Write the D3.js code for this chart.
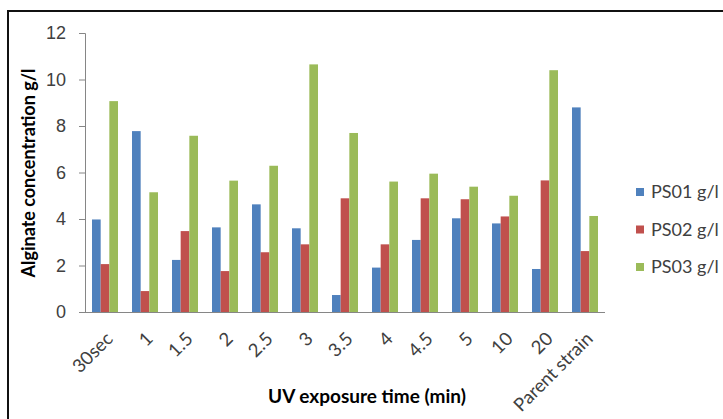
<!DOCTYPE html>
<html>
<head>
<meta charset="utf-8">
<script src="https://cdn.jsdelivr.net/npm/d3@7"></script>
<style>
  html, body { margin: 0; padding: 0; background: #fff; }
  svg { display: block; font-family: Lato, "Open Sans", sans-serif; }
</style>
</head>
<body>
<div id="chart"></div>
<script>
const categories = ['30sec', '1', '1.5', '2', '2.5', '3', '3.5', '4', '4.5', '5', '10', '20', 'Parent strain'];
const seriesNames = ['PS01 g/l', 'PS02 g/l', 'PS03 g/l'];
const ps01 = [3.98, 7.78, 2.24, 3.64, 4.63, 3.60, 0.73, 1.91, 3.10, 4.03, 3.81, 1.85, 8.80];
const ps02 = [2.06, 0.90, 3.48, 1.76, 2.57, 2.91, 4.89, 2.91, 4.89, 4.85, 4.11, 5.66, 2.62];
const ps03 = [9.07, 5.15, 7.58, 5.65, 6.29, 10.65, 7.70, 5.61, 5.95, 5.39, 5.00, 10.40, 4.13];
const yTicks = [0, 2, 4, 6, 8, 10, 12];
const colors = ['#4F81BD', '#C0504D', '#9BBB59'];

const width = 723;
const height = 419;
const plot = { left: 85, right: 605, top: 33, bottom: 312 };

const svg = d3.select('#chart')
  .append('svg')
  .attr('width', width)
  .attr('height', height);

// outer frame (right and bottom edges fall outside the picture)
svg.append('rect')
  .attr('x', 8)
  .attr('y', 11)
  .attr('width', 740)
  .attr('height', 440)
  .attr('fill', 'none')
  .attr('stroke', '#111')
  .attr('stroke-width', 2);

const x = d3.scaleBand()
  .domain(categories)
  .range([plot.left, plot.right])
  .paddingInner(0.35)
  .paddingOuter(0.175);

const xs = d3.scaleBand()
  .domain(seriesNames)
  .range([0, x.bandwidth()]);

const y = d3.scaleLinear()
  .domain([0, 12])
  .range([plot.bottom, plot.top]);

const series = [ps01, ps02, ps03].map((vals, i) => ({
  name: seriesNames[i],
  color: colors[i],
  values: vals.map((v, j) => ({ cat: categories[j], v })),
}));

svg.append('g')
  .selectAll('g')
  .data(series)
  .join('g')
  .attr('fill', (d) => d.color)
  .selectAll('rect')
  .data((d) => d.values.map((p) => ({ ...p, name: d.name })))
  .join('rect')
  .attr('x', (d) => x(d.cat) + xs(d.name))
  .attr('y', (d) => y(d.v))
  .attr('width', xs.bandwidth())
  .attr('height', (d) => y(0) - y(d.v));

// y axis
const yAxis = svg.append('g')
  .attr('transform', `translate(${plot.left},0)`)
  .call(d3.axisLeft(y).tickValues(yTicks).tickSize(6).tickPadding(13));
yAxis.select('.domain').attr('stroke', '#868686');
yAxis.selectAll('.tick line').attr('stroke', '#868686');
yAxis.selectAll('.tick text')
  .attr('fill', '#404040')
  .style('font-size', '18px');

// x axis line
svg.append('line')
  .attr('x1', plot.left)
  .attr('x2', plot.right)
  .attr('y1', y(0) + 0.5)
  .attr('y2', y(0) + 0.5)
  .attr('stroke', '#868686');

// x labels, rotated
svg.append('g')
  .selectAll('text')
  .data(categories)
  .join('text')
  .attr('transform', (d) => `translate(${x(d) + x.bandwidth() / 2 + 9},340) rotate(-45)`)
  .attr('text-anchor', 'end')
  .attr('fill', '#404040')
  .style('font-size', '18.5px')
  .text((d) => d);

// axis titles
svg.append('text')
  .attr('x', 367)
  .attr('y', 403)
  .attr('text-anchor', 'middle')
  .style('font-size', '19px')
  .style('font-weight', 'bold')
  .text('UV exposure time (min)');

svg.append('text')
  .attr('transform', 'translate(35,173) rotate(-90)')
  .attr('text-anchor', 'middle')
  .style('font-size', '18px')
  .style('font-weight', 'bold')
  .text('Alginate concentration g/l');

// legend
const legend = svg.append('g')
  .selectAll('g')
  .data(series)
  .join('g')
  .attr('transform', (d, i) => `translate(636,${192 + i * 37.5})`);
legend.append('rect')
  .attr('x', 0)
  .attr('y', -4)
  .attr('width', 8)
  .attr('height', 8)
  .attr('fill', (d) => d.color);
legend.append('text')
  .attr('x', 15)
  .attr('dy', '0.35em')
  .attr('fill', '#404040')
  .style('font-size', '18px')
  .text((d) => d.name);
</script>
</body>
</html>
